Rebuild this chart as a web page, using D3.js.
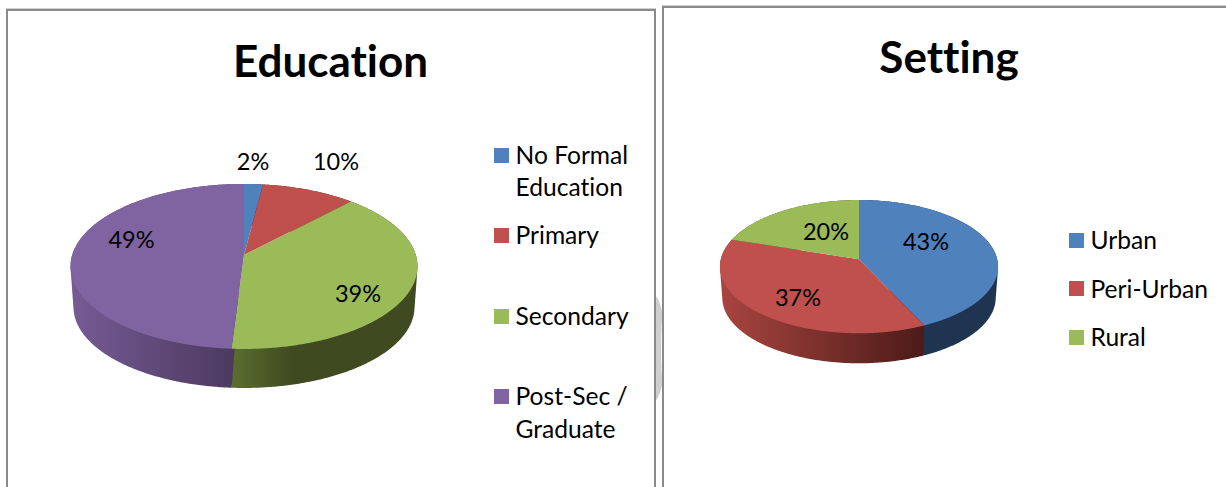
<!DOCTYPE html>
<html>
<head>
<meta charset="utf-8">
<script src="https://cdn.jsdelivr.net/npm/d3@7/dist/d3.min.js"></script>
<style>
html,body{margin:0;padding:0;background:#fff;overflow:hidden}
svg{display:block}
text{font-family:Lato,"Open Sans",sans-serif;fill:#000;font-variant-ligatures:none;font-feature-settings:"liga" 0}
</style>
</head>
<body>
<svg id="c" width="1226" height="487"></svg>
<script>
const eduCategories = ["No Formal Education", "Primary", "Secondary", "Post-Sec / Graduate"];
const eduValues = [2, 10, 39, 49];
const setCategories = ["Urban", "Peri-Urban", "Rural"];
const setValues = [43, 37, 20];
const eduTitle = "Education";
const setTitle = "Setting";

const svg = d3.select("#c");
const defs = svg.append("defs");
const pct = d3.format(".0%");

// frames
function frame(x, y, r, withRight) {
  const g = svg.append("g").attr("fill", "none").attr("stroke", "#8a8a8a").attr("stroke-width", 2);
  g.append("path").attr("d", withRight
    ? `M${x},487V${y}H${r}V487`
    : `M${x},487V${y}H${r}`);
  svg.append("line").attr("x1", x - 1).attr("x2", r + 1).attr("y1", y - 1.5).attr("y2", y - 1.5)
    .attr("stroke", "#d0d0d0").attr("stroke-width", 1);
}
// faint watermark crescent between the frames
svg.append("path").attr("fill", "#cfcfcf")
  .attr("d", "M655,295 C658,298 661,304 662,312 L662,318 C661,335 660.5,360 662,378 L662,384 C661,392 658,398 655,402 Z");
frame(7, 10, 655, true);
frame(663, 7, 1226, false);

function pie3d(cfg) {
  const color = d3.scaleOrdinal().domain(cfg.categories).range(cfg.colors);
  const arcs = d3.pie().sort(null).value(d => d)(cfg.values);
  const g = svg.append("g");
  const project = (t, s, dy) => {
    const u = Math.sin(t), v = -Math.cos(t), w = 1 + cfg.k * v;
    return [cfg.cx + s * cfg.a * u / w, cfg.cy + dy + s * cfg.b * v / w];
  };
  const sample = (a0, a1, s, dy) => {
    const n = Math.max(2, Math.ceil((a1 - a0) / 0.01));
    return d3.range(n + 1).map(i => project(a0 + (a1 - a0) * i / n, s, dy));
  };
  const line = d3.line();
  // side wall: hull of the slice's rim on the top face and on the bottom face
  arcs.forEach((d, i) => {
    const id = cfg.id + "w" + i;
    const st = cfg.wall[i];
    const lg = defs.append("linearGradient").attr("id", id).attr("gradientUnits", "userSpaceOnUse")
      .attr("x1", st.x0).attr("x2", st.x1).attr("y1", 0).attr("y2", 0);
    lg.append("stop").attr("offset", 0).attr("stop-color", st.c0);
    lg.append("stop").attr("offset", 1).attr("stop-color", st.c1);
    const pts = d3.polygonHull(sample(d.startAngle, d.endAngle, 1, 0)
      .concat(sample(d.startAngle, d.endAngle, cfg.s, cfg.depth)));
    g.append("path").attr("d", line(pts) + "Z").attr("fill", `url(#${id})`);
  });
  // top faces
  arcs.forEach((d, i) => {
    const pts = [[cfg.cx, cfg.cy]].concat(sample(d.startAngle, d.endAngle, 1, 0));
    g.append("path").attr("d", line(pts) + "Z").attr("fill", color(cfg.categories[i]));
  });
  // data labels
  const total = d3.sum(cfg.values);
  arcs.forEach((d, i) => {
    g.append("text").attr("x", cfg.labels[i][0]).attr("y", cfg.labels[i][1])
      .attr("text-anchor", "middle").attr("font-size", cfg.labelSize)
      .text(pct(d.value / total));
  });
  // title
  svg.append("text").attr("x", cfg.titleX).attr("y", cfg.titleY).attr("text-anchor", "middle")
    .attr("font-size", cfg.titleSize).attr("font-weight", 700).text(cfg.title);
  // legend
  cfg.legend.forEach((row, i) => {
    svg.append("rect").attr("x", cfg.legendX).attr("y", row.y).attr("width", 15).attr("height", 15)
      .attr("fill", color(cfg.categories[i]));
    row.lines.forEach((t, j) => {
      svg.append("text").attr("x", cfg.legendX + 21.5).attr("y", row.base[j])
        .attr("font-size", cfg.legendSize).text(t);
    });
  });
}

pie3d({
  id: "edu", title: eduTitle, categories: eduCategories, values: eduValues,
  colors: ["#4f81bd", "#c0504d", "#9bbb59", "#8064a2"],
  cx: 244, cy: 255, a: 171.8, b: 80.9, k: -0.139, s: 0.983, depth: 40.6,
  wall: [
    {x0: 240, x1: 260, c0: "#1e3450", c1: "#1e3450"},
    {x0: 260, x1: 350, c0: "#4a1a17", c1: "#4a1a17"},
    {x0: 232, x1: 292, c0: "#5b6e30", c1: "#3f4a20"},
    {x0: 73, x1: 232, c0: "#755a94", c1: "#4c3a5f"}
  ],
  labels: [[253, 170], [336, 170], [358, 302], [131.5, 248]],
  labelSize: 23.5, titleX: 330.5, titleY: 77, titleSize: 44, legendX: 494, legendSize: 24.6,
  legend: [
    {y: 148, lines: ["No Formal", "Education"], base: [164, 196]},
    {y: 228, lines: ["Primary"], base: [244]},
    {y: 309, lines: ["Secondary"], base: [325]},
    {y: 389, lines: ["Post-Sec /", "Graduate"], base: [405, 438]}
  ]
});

pie3d({
  id: "set", title: setTitle, categories: setCategories, values: setValues,
  colors: ["#4f81bd", "#c0504d", "#9bbb59"],
  cx: 859, cy: 259.3, a: 138.2, b: 65.8, k: -0.11, s: 0.983, depth: 31.3,
  wall: [
    {x0: 921, x1: 996, c0: "#1e3450", c1: "#1e3450"},
    {x0: 722, x1: 924, c0: "#a8443f", c1: "#4c1b18"},
    {x0: 722, x1: 859, c0: "#4a5a25", c1: "#4a5a25"}
  ],
  labels: [[926, 250], [798, 306], [826, 240]],
  labelSize: 23.5, titleX: 949, titleY: 73, titleSize: 44, legendX: 1069, legendSize: 24.6,
  legend: [
    {y: 233, lines: ["Urban"], base: [249]},
    {y: 281, lines: ["Peri-Urban"], base: [298]},
    {y: 330, lines: ["Rural"], base: [346]}
  ]
});
</script>
</body>
</html>
